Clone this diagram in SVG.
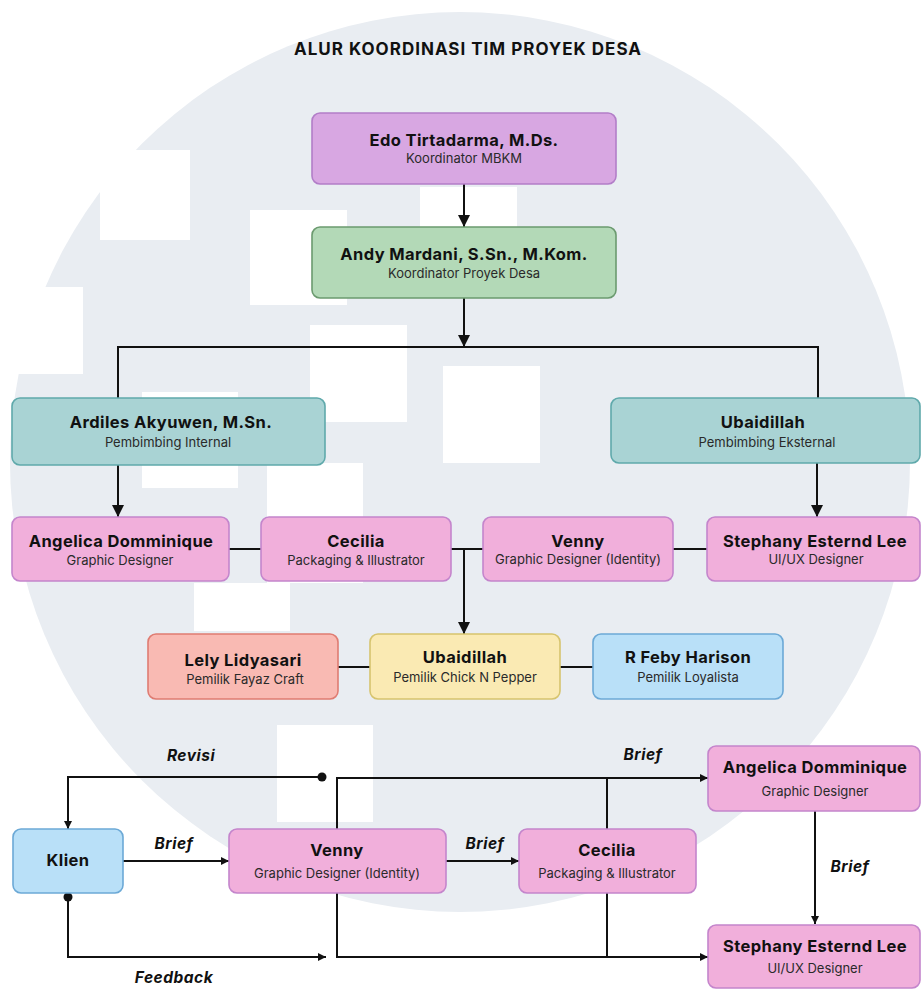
<svg xmlns="http://www.w3.org/2000/svg" width="921" height="989" viewBox="0 0 921 989">
<style>
.bg{fill:#e9edf2}
.wh{fill:#ffffff}
.box{stroke-width:1.6}
.violet{fill:#d8a7e2;stroke:#b27ec8}
.green{fill:#b3d9b7;stroke:#6b9a6f}
.teal{fill:#a9d3d4;stroke:#5fa9ab}
.pink{fill:#f1afdb;stroke:#c485cc}
.red{fill:#f9bab3;stroke:#df7c72}
.yellow{fill:#faeab3;stroke:#d6c46e}
.blue{fill:#b9e0f8;stroke:#6ca9d6}
.t{font-family:Inter,"Liberation Sans",sans-serif;fill:#111;text-anchor:middle}
.n{font-size:16.5px;font-weight:700;letter-spacing:0.4px}
.s{font-size:13px;fill:#2a2a2a}
.lbl{font-size:15.5px;font-weight:700;font-style:italic;letter-spacing:0.5px}
.title{font-size:17px;font-weight:700;letter-spacing:1px}
.ln{fill:none;stroke:#111;stroke-width:2}
</style>
<defs>
<marker id="big" markerUnits="userSpaceOnUse" markerWidth="12" markerHeight="12" refX="12" refY="6" orient="auto"><path d="M0,0 L12,6 L0,12 z" fill="#111"/></marker>
<marker id="sm" markerUnits="userSpaceOnUse" markerWidth="9" markerHeight="9" refX="8" refY="4.5" orient="auto"><path d="M0,0.5 L8,4.5 L0,8.5 z" fill="#111"/></marker>
</defs>
<rect width="921" height="989" fill="#ffffff"/>
<g id="background">
<circle class="bg" cx="460" cy="462" r="450"/>
<rect class="wh" x="100" y="150" width="90" height="90"/>
<rect class="wh" x="0" y="287" width="83" height="87"/>
<rect class="wh" x="250" y="210" width="97" height="95"/>
<rect class="wh" x="420" y="187" width="97" height="55"/>
<rect class="wh" x="310" y="325" width="97" height="97"/>
<rect class="wh" x="443" y="366" width="97" height="97"/>
<rect class="wh" x="142" y="392" width="96" height="96"/>
<rect class="wh" x="267" y="463" width="96" height="120"/>
<rect class="wh" x="194" y="583" width="96" height="48"/>
<rect class="wh" x="277" y="725" width="96" height="97"/>
</g>
<text class="t title" x="468" y="55">ALUR KOORDINASI TIM PROYEK DESA</text>
<g id="connectors">
<path class="ln" d="M464,184 V227" marker-end="url(#big)"/>
<path class="ln" d="M464,298 V347" marker-end="url(#big)"/>
<path class="ln" d="M118,398 V347 H818 V398"/>
<path class="ln" d="M118,465 V517" marker-end="url(#big)"/>
<path class="ln" d="M817,463 V517" marker-end="url(#big)"/>
<path class="ln" d="M229,549 H261"/>
<path class="ln" d="M451,549 H483"/>
<path class="ln" d="M673,549 H707"/>
<path class="ln" d="M464,549 V634" marker-end="url(#big)"/>
<path class="ln" d="M338,667 H370"/>
<path class="ln" d="M560,667 H593"/>
<path class="ln" d="M322,777 H68 V829" marker-end="url(#sm)"/>
<circle cx="322" cy="777" r="4.5" fill="#111"/>
<path class="ln" d="M123,861 H229" marker-end="url(#sm)"/>
<path class="ln" d="M446,861 H519" marker-end="url(#sm)"/>
<path class="ln" d="M337,829 V778 H708" marker-end="url(#sm)"/>
<path class="ln" d="M607,829 V778"/>
<path class="ln" d="M815,811 V924" marker-end="url(#sm)"/>
<path class="ln" d="M68,896 V957 H326" marker-end="url(#sm)"/>
<circle cx="68" cy="897" r="4.5" fill="#111"/>
<path class="ln" d="M337,893 V957 H708" marker-end="url(#sm)"/>
<path class="ln" d="M607,893 V957"/>
<text class="t lbl" x="191" y="761">Revisi</text>
<text class="t lbl" x="643" y="760">Brief</text>
<text class="t lbl" x="174" y="849">Brief</text>
<text class="t lbl" x="485" y="849">Brief</text>
<text class="t lbl" x="850" y="872">Brief</text>
<text class="t lbl" x="174" y="983">Feedback</text>
</g>
<g id="edo">
<rect class="box violet" x="312" y="113" width="304" height="71" rx="8"/>
<text class="t n" x="464" y="146">Edo Tirtadarma, M.Ds.</text>
<text class="t s" x="464" y="163">Koordinator MBKM</text>
</g>
<g id="andy">
<rect class="box green" x="312" y="227" width="304" height="71" rx="8"/>
<text class="t n" x="464" y="260">Andy Mardani, S.Sn., M.Kom.</text>
<text class="t s" x="464" y="278">Koordinator Proyek Desa</text>
</g>
<g id="ardiles">
<rect class="box teal" x="12" y="398" width="313" height="67" rx="8"/>
<text class="t n" x="171" y="428">Ardiles Akyuwen, M.Sn.</text>
<text class="t s" x="168" y="447">Pembimbing Internal</text>
</g>
<g id="ubaidillah-ext">
<rect class="box teal" x="611" y="398" width="309" height="65" rx="8"/>
<text class="t n" x="763" y="428">Ubaidillah</text>
<text class="t s" x="767" y="447">Pembimbing Eksternal</text>
</g>
<g id="angelica">
<rect class="box pink" x="12" y="517" width="217" height="64" rx="8"/>
<text class="t n" x="121" y="547">Angelica Domminique</text>
<text class="t s" x="120" y="565">Graphic Designer</text>
</g>
<g id="cecilia">
<rect class="box pink" x="261" y="517" width="190" height="64" rx="8"/>
<text class="t n" x="356" y="547">Cecilia</text>
<text class="t s" x="356" y="565">Packaging &amp; Illustrator</text>
</g>
<g id="venny">
<rect class="box pink" x="483" y="517" width="190" height="64" rx="8"/>
<text class="t n" x="578" y="547">Venny</text>
<text class="t s" x="578" y="564">Graphic Designer (Identity)</text>
</g>
<g id="stephany">
<rect class="box pink" x="707" y="517" width="213" height="64" rx="8"/>
<text class="t n" x="815" y="547">Stephany Esternd Lee</text>
<text class="t s" x="816" y="564">UI/UX Designer</text>
</g>
<g id="lely">
<rect class="box red" x="148" y="634" width="190" height="65" rx="8"/>
<text class="t n" x="243" y="666">Lely Lidyasari</text>
<text class="t s" x="245" y="684">Pemilik Fayaz Craft</text>
</g>
<g id="ubaidillah-owner">
<rect class="box yellow" x="370" y="634" width="190" height="65" rx="8"/>
<text class="t n" x="465" y="663">Ubaidillah</text>
<text class="t s" x="465" y="682">Pemilik Chick N Pepper</text>
</g>
<g id="feby">
<rect class="box blue" x="593" y="634" width="190" height="65" rx="8"/>
<text class="t n" x="688" y="663">R Feby Harison</text>
<text class="t s" x="688" y="682">Pemilik Loyalista</text>
</g>
<g id="klien">
<rect class="box blue" x="13" y="829" width="110" height="64" rx="8"/>
<text class="t n" x="68" y="866">Klien</text>
</g>
<g id="venny-2">
<rect class="box pink" x="229" y="829" width="217" height="64" rx="8"/>
<text class="t n" x="337" y="856">Venny</text>
<text class="t s" x="337" y="878">Graphic Designer (Identity)</text>
</g>
<g id="cecilia-2">
<rect class="box pink" x="519" y="829" width="177" height="64" rx="8"/>
<text class="t n" x="607" y="856">Cecilia</text>
<text class="t s" x="607" y="878">Packaging &amp; Illustrator</text>
</g>
<g id="angelica-2">
<rect class="box pink" x="708" y="746" width="212" height="65" rx="8"/>
<text class="t n" x="815" y="773">Angelica Domminique</text>
<text class="t s" x="815" y="796">Graphic Designer</text>
</g>
<g id="stephany-2">
<rect class="box pink" x="708" y="925" width="212" height="63" rx="8"/>
<text class="t n" x="815" y="952">Stephany Esternd Lee</text>
<text class="t s" x="815" y="973">UI/UX Designer</text>
</g>
</svg>
